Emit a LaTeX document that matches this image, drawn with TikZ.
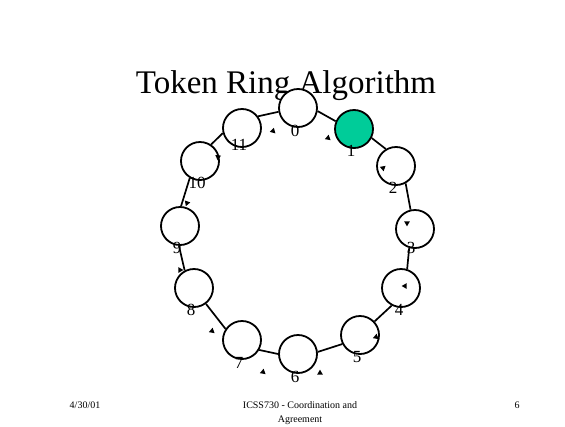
\documentclass[tikz,border=0pt]{standalone}
\usepackage{fontspec}
\setmainfont{Liberation Serif}
\usetikzlibrary{shapes.geometric}
\definecolor{tokgreen}{RGB}{0,204,153}
\tikzset{
  ring/.style={circle, draw=black, line width=1.8pt, minimum size=38pt, inner sep=0pt, fill=white},
  holder/.style={ring, fill=tokgreen},
  lbl/.style={anchor=base, font=\fontsize{17}{17}\selectfont, inner sep=0pt},
  link/.style={line width=1.7pt},
  tipm/.style={isosceles triangle, fill=black, inner sep=0pt, minimum height=5pt, minimum width=5pt, isosceles triangle apex angle=60},
  foot/.style={font=\fontsize{10}{10}\selectfont, inner sep=0pt, anchor=base},
}
\begin{document}
\begin{tikzpicture}[x=1pt,y=-1pt]
\useasboundingbox (0,0) rectangle (565,426);
\fill[white] (0,0) rectangle (565,426);
\node[anchor=base, font=\fontsize{33}{33}\selectfont, inner sep=0pt] (title) at (286,93) {Token Ring Algorithm};
% circles
\node[ring]   (n0)  at (298,108) {};
\node[holder] (n1)  at (354,129) {};
\node[ring]   (n2)  at (396,166) {};
\node[ring]   (n3)  at (415,229) {};
\node[ring]   (n4)  at (401,288) {};
\node[ring]   (n5)  at (360,335) {};
\node[ring]   (n6)  at (298,354) {};
\node[ring]   (n7)  at (242,340) {};
\node[ring]   (n8)  at (194,288) {};
\node[ring]   (n9)  at (180,226) {};
\node[ring]   (n10) at (200,161) {};
\node[ring]   (n11) at (242,128) {};
% links
\draw[link] (n11.36)  -- (n0.191);
\draw[link] (n0.351)  -- (n1.157);
\draw[link] (n1.333)  -- (n2.121);
\draw[link] (n2.299)  -- (n3.103);
\draw[link] (n3.253)  -- (n4.72);
\draw[link] (n4.242)  -- (n5.43);
\draw[link] (n5.207)  -- (n6.6);
\draw[link] (n6.180)  -- (n7.330);
\draw[link] (n7.146)  -- (n8.307);
\draw[link] (n8.118)  -- (n9.267);
\draw[link] (n9.87)   -- (n10.239);
\draw[link] (n10.56)  -- (n11.195);
% labels
\node[lbl] (l0)  at (295,136) {0};
\node[lbl] (l1)  at (351,156) {1};
\node[lbl] (l2)  at (393,193) {2};
\node[lbl] (l3)  at (411,253) {3};
\node[lbl] (l4)  at (399,315) {4};
\node[lbl] (l5)  at (357,362) {5};
\node[lbl] (l6)  at (295,382) {6};
\node[lbl] (l7)  at (239,368) {7};
\node[lbl] (l8)  at (191,315) {8};
\node[lbl] (l9)  at (177,253) {9};
\node[lbl] (l10) at (197,188) {10};
\node[lbl] (l11) at (239,150) {11};
% small arrow tips
\node[tipm, rotate=-45]  (t1)  at (273,131) {};
\node[tipm, rotate=200]  (t2)  at (328,138) {};
\node[tipm, rotate=160]  (t3)  at (383,168) {};
\node[tipm, rotate=-95]  (t4)  at (218,157) {};
\node[tipm, rotate=-110] (t5)  at (187,203) {};
\node[tipm, rotate=-120] (t6)  at (180,270) {};
\node[tipm, rotate=-40]  (t7)  at (212,331) {};
\node[tipm, rotate=200]  (t8)  at (263,372) {};
\node[tipm, rotate=90]   (t9)  at (320,373) {};
\node[tipm, rotate=80]   (t10) at (376,337) {};
\node[tipm, rotate=-60]  (t11) at (405,286) {};
\node[tipm, rotate=150]  (t12) at (407,223) {};
% footer
\node[foot] (date) at (85,408) {4/30/01};
\node[foot] (course) at (300,408) {ICSS730 - Coordination and};
\node[foot] (course2) at (300,422) {Agreement};
\node[foot] (page) at (517,408) {6};
\end{tikzpicture}
\end{document}
